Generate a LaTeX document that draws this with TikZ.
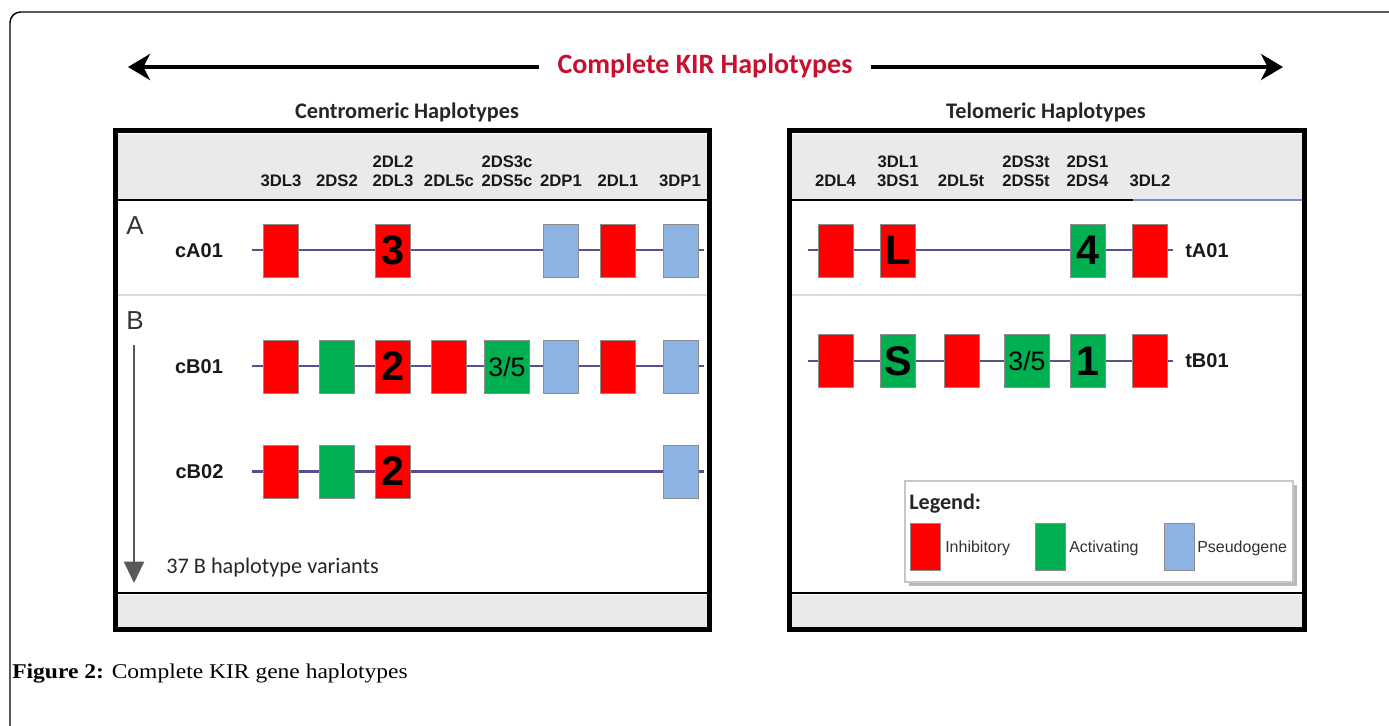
\documentclass[tikz,border=0pt]{standalone}
\usepackage{fontspec}
\setmainfont{Liberation Serif}
\newfontfamily\arialf{Liberation Sans}
\newfontfamily\calibrif{Carlito}
\newfontfamily\capfont[FakeStretch=1.12]{Liberation Serif}
\usetikzlibrary{arrows.meta}
\definecolor{kred}{HTML}{FF0000}
\definecolor{kgreen}{HTML}{00B050}
\definecolor{kblue}{HTML}{8DB3E2}
\definecolor{kline}{HTML}{5B4F8F}
\definecolor{ktitle}{HTML}{C8102E}
\definecolor{kgray}{HTML}{EAEAEA}
\definecolor{ktext}{HTML}{262626}
\definecolor{khead}{HTML}{7591C4}
\begin{document}
\begin{tikzpicture}[x=0.75pt,y=-0.75pt,
  gene/.style={draw=black!45, line width=0.5pt, minimum width=26.25pt, minimum height=39.75pt, inner sep=0pt, text=black, font=\arialf\bfseries\fontsize{31}{31}\selectfont},
  inh/.style={gene, fill=kred},
  act/.style={gene, fill=kgreen},
  pse/.style={gene, fill=kblue},
  wide/.style={minimum width=33.5pt, font=\arialf\fontsize{20}{20}\selectfont},
  swatch/.style={minimum width=22.5pt, minimum height=35.25pt},
  chrom/.style={draw=kline, line width=2pt},
  glabel/.style={font=\arialf\bfseries\fontsize{12.5}{14.25}\selectfont, align=center, text=black!90, inner sep=0pt},
  rlabel/.style={font=\arialf\bfseries\fontsize{15}{15}\selectfont, text=black!90, inner sep=0pt},
  hlabel/.style={font=\calibrif\bfseries\fontsize{16.7}{16.7}\selectfont, text=ktext, inner sep=0pt, anchor=base},
  letter/.style={font=\arialf\fontsize{19.5}{19.5}\selectfont, text=black!80, inner sep=0pt},
  legtext/.style={font=\arialf\fontsize{12}{12}\selectfont, text=black!80, inner sep=0pt, anchor=base west},
  bigarrow/.style={line width=3pt, -{Stealth[length=16.5pt,width=19.5pt,inset=5pt]}},
  varrow/.style={draw=black!65, line width=1.5pt, -{Triangle[length=16pt,width=15pt]}},
  boxborder/.style={line width=3.9pt},
  sepline/.style={draw=black!15, line width=1.2pt}
]
\path[use as bounding box] (0,0) rectangle (1389,725);
\clip (0,0) rectangle (1389,725);

% outer frame
\coordinate (fTR) at (1420,12);
\coordinate (fTL) at (10,12);
\coordinate (fBL) at (10,745);
\draw[line width=1.1pt, rounded corners=8pt] (fTR) -- (fTL) -- (fBL);

% title with double arrow
\coordinate (ltip) at (128,67);
\coordinate (rtip) at (1283,67);
\node[font=\calibrif\bfseries\fontsize{21}{21}\selectfont, text=ktitle, inner xsep=14pt, inner ysep=0pt, anchor=base] (title) at (705,73) {Complete KIR Haplotypes};
\draw[bigarrow] (title.west |- ltip) -- (ltip);
\draw[bigarrow] (title.east |- rtip) -- (rtip);

% section titles
\node[hlabel] (centitle) at (407,118) {Centromeric Haplotypes};
\node[hlabel] (teltitle) at (1046,118) {Telomeric Haplotypes};

% ---------- left box ----------
\fill[kgray] (118,134) rectangle (707,200);
\fill[kgray] (118,595) rectangle (707,627);
\draw[line width=1.1pt] (118,200) -- (707,200);
\draw[line width=1.9pt] (118,593) -- (707,593);
\draw[sepline] (118,295) -- (707,295);
\draw[boxborder] (115.5,130.5) rectangle (709.5,629.5);

% ---------- right box ----------
\fill[kgray] (792,134) rectangle (1302,200);
\fill[kgray] (792,595) rectangle (1302,627);
\draw[line width=1.1pt] (792,200) -- (1133,200);
\draw[line width=1.1pt, draw=khead] (1133,200) -- (1302,200);
\draw[line width=1.9pt] (792,593) -- (1302,593);
\draw[sepline] (792,295) -- (1302,295);
\draw[boxborder] (789.5,130.5) rectangle (1304.5,629.5);

% gene column labels (centromeric)
\node[glabel] (l1) at (281,180.5) {3DL3};
\node[glabel] (l2) at (337,180.5) {2DS2};
\node[glabel] (l3) at (393,171.5) {2DL2\\2DL3};
\node[glabel] (l4) at (449,180.5) {2DL5c};
\node[glabel] (l5) at (507,171.5) {2DS3c\\2DS5c};
\node[glabel] (l6) at (561,180.5) {2DP1};
\node[glabel] (l7) at (618,180.5) {2DL1};
\node[glabel] (l8) at (680,180.5) {3DP1};

% gene column labels (telomeric)
\node[glabel] (t1) at (835.5,180.5) {2DL4};
\node[glabel] (t2) at (898,171.5) {3DL1\\3DS1};
\node[glabel] (t3) at (961,180.5) {2DL5t};
\node[glabel] (t4) at (1026,171.5) {2DS3t\\2DS5t};
\node[glabel] (t5) at (1087.5,171.5) {2DS1\\2DS4};
\node[glabel] (t6) at (1150,180.5) {3DL2};

% A / B markers
\node[letter] (A) at (135,226) {A};
\node[letter] (B) at (135,321) {B};
\coordinate (vtop) at (134,345);
\coordinate (vtip) at (134,583);
\draw[varrow] (vtop) -- (vtip);
\node[font=\calibrif\fontsize{16.7}{16.7}\selectfont, text=ktext, inner sep=0pt, anchor=base west] (variants) at (166,573) {37 B haplotype variants};

% row cA01
\node[rlabel] (cA01) at (199,250.5) {cA01};
\coordinate (cA01s) at (252,250);
\coordinate (cA01e) at (704,250);
\draw[chrom] (cA01s) -- (cA01e);
\node[inh] (a1) at (281,250.5) {};
\node[inh] (a3) at (393,250.5) {3};
\node[pse] (a6) at (561,250.5) {};
\node[inh] (a7) at (618,250.5) {};
\node[pse] (a8) at (681,250.5) {};

% row cB01
\node[rlabel] (cB01) at (199,366.5) {cB01};
\coordinate (cB01s) at (252,366);
\coordinate (cB01e) at (704,366);
\draw[chrom] (cB01s) -- (cB01e);
\node[inh] (b1) at (281,366.5) {};
\node[act] (b2) at (337,366.5) {};
\node[inh] (b3) at (393,366.5) {2};
\node[inh] (b4) at (449,366.5) {};
\node[act,wide] (b5) at (507,366.5) {3/5};
\node[pse] (b6) at (561,366.5) {};
\node[inh] (b7) at (618,366.5) {};
\node[pse] (b8) at (681,366.5) {};

% row cB02
\node[rlabel] (cB02) at (199.5,471.5) {cB02};
\coordinate (cB02s) at (252,471.5);
\coordinate (cB02e) at (704,471.5);
\draw[chrom] (cB02s) -- (cB02e);
\node[inh] (c1) at (281,471.5) {};
\node[act] (c2) at (337,471.5) {};
\node[inh] (c3) at (393,471.5) {2};
\node[pse] (c8) at (681,471.5) {};

% row tA01
\node[rlabel] (tA01) at (1207,250.5) {tA01};
\coordinate (tA01s) at (807.5,250);
\coordinate (tA01e) at (1172.5,250);
\draw[chrom] (tA01s) -- (tA01e);
\node[inh] (d1) at (835.5,250.5) {};
\node[inh] (d2) at (898,250.5) {L};
\node[act] (d5) at (1087.5,250.5) {4};
\node[inh] (d6) at (1149.5,250.5) {};

% row tB01
\node[rlabel] (tB01) at (1207,361) {tB01};
\coordinate (tB01s) at (807.5,361);
\coordinate (tB01e) at (1172.5,361);
\draw[chrom] (tB01s) -- (tB01e);
\node[inh] (e1) at (835.5,361) {};
\node[act] (e2) at (898,361) {S};
\node[inh] (e3) at (961.5,361) {};
\node[act,wide] (e4) at (1027,361) {3/5};
\node[act] (e5) at (1087.5,361) {1};
\node[inh] (e6) at (1149.5,361) {};

% legend
\fill[black!28] (908.5,484.5) rectangle (1296.5,585.5);
\draw[draw=black!22, fill=white, line width=0.8pt] (905,481) rectangle (1293,582);
\node[font=\calibrif\bfseries\fontsize{16.6}{16.6}\selectfont, text=ktext, inner sep=0pt, anchor=base west] (legend) at (909,509) {Legend:};
\node[inh,swatch] (lg1) at (925,546.5) {};
\node[legtext] (lt1) at (945,552.5) {Inhibitory};
\node[act,swatch] (lg2) at (1050.5,546.5) {};
\node[legtext] (lt2) at (1069,552.5) {Activating};
\node[pse,swatch] (lg3) at (1179,546.5) {};
\node[legtext] (lt3) at (1197,552.5) {Pseudogene};

% caption
\node[font=\capfont\fontsize{15.75}{15.75}\selectfont, inner sep=0pt, anchor=base west] (caption) at (12,678) {\textbf{Figure 2:} Complete KIR gene haplotypes};
\end{tikzpicture}
\end{document}
